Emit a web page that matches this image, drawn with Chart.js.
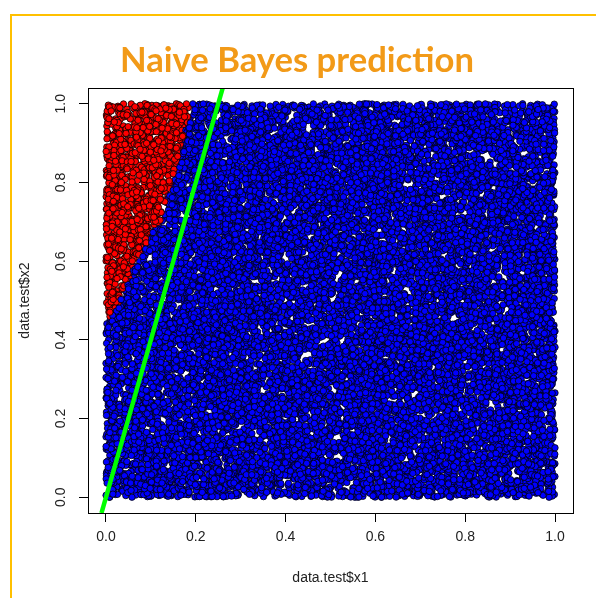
<!DOCTYPE html>
<html>
<head>
<meta charset="utf-8">
<script src="https://cdn.jsdelivr.net/npm/chart.js@4.4.1/dist/chart.umd.min.js"></script>
<style>
  html, body { margin: 0; padding: 0; background: #fff; }
  #wrap { width: 596px; height: 598px; }
</style>
</head>
<body>
<div id="wrap"><canvas id="nbChart" width="596" height="598"></canvas></div>
<script>
// Test sample: uniform points on the unit square (data.test$x1, data.test$x2)
var sampleSize = 18000;
var sampleSeed = 20170412;

// Predicted class boundary: points above this curve are labelled red
var boundaryX1 = [0.00, 0.04, 0.065, 0.125, 0.165, 0.20, 0.30];
var boundaryX2 = [0.44, 0.52, 0.60, 0.71, 0.87, 1.04, 1.50];

// Reference line drawn over the predictions
var refLineX1 = [-0.01, 0.26];
var refLineX2 = [-0.04, 1.04];

var tickValues = [0.0, 0.2, 0.4, 0.6, 0.8, 1.0];
var axisRange = [-0.04, 1.04];

var classColors = { red: '#FF0000', blue: '#0000FF' };

// small seeded generator so the sample is the same on every load
function mulberry32(a) {
    return function() {
        a |= 0; a = a + 0x6D2B79F5 | 0;
        var t = Math.imul(a ^ a >>> 15, 1 | a);
        t = t + Math.imul(t ^ t >>> 7, 61 | t) ^ t;
        return ((t ^ t >>> 14) >>> 0) / 4294967296;
    };
}

function boundaryAt(x1) {
    for (var i = 1; i < boundaryX1.length; i++) {
        if (x1 <= boundaryX1[i]) {
            var f = (x1 - boundaryX1[i - 1]) / (boundaryX1[i] - boundaryX1[i - 1]);
            return boundaryX2[i - 1] + f * (boundaryX2[i] - boundaryX2[i - 1]);
        }
    }
    return boundaryX2[boundaryX2.length - 1];
}

var rng = mulberry32(sampleSeed);
var testPoints = [];
var testColors = [];
for (var i = 0; i < sampleSize; i++) {
    var x1 = rng(), x2 = rng();
    testPoints.push({ x: x1, y: x2 });
    testColors.push(x2 > boundaryAt(x1) ? classColors.red : classColors.blue);
}

var refLine = refLineX1.map(function(v, k) { return { x: v, y: refLineX2[k] }; });

var labelFont = "14px 'Liberation Sans', Arial, sans-serif";

// frame, title, box, rotated y labels and axis titles
var decorations = {
    id: 'decorations',
    beforeDraw: function(chart) {
        var ctx = chart.ctx;
        ctx.save();
        ctx.strokeStyle = '#FFC000';
        ctx.lineWidth = 2;
        ctx.beginPath();
        ctx.moveTo(11, 598);
        ctx.lineTo(11, 15);
        ctx.lineTo(596, 15);
        ctx.stroke();

        var title = 'Naive Bayes prediction';
        ctx.font = "bold 34px Lato, 'Open Sans', sans-serif";
        ctx.fillStyle = '#F29A18';
        ctx.textBaseline = 'alphabetic';
        ctx.textAlign = 'left';
        var w = ctx.measureText(title).width;
        ctx.translate(120, 72);
        ctx.scale(354 / w, 1);
        ctx.fillText(title, 0, 0);
        ctx.restore();
    },
    afterDraw: function(chart) {
        var ctx = chart.ctx;
        var a = chart.chartArea;
        var ys = chart.scales.y;
        var xs = chart.scales.x;
        ctx.save();
        ctx.strokeStyle = '#000';
        ctx.lineWidth = 1;
        ctx.strokeRect(Math.round(a.left) + 0.5, Math.round(a.top) + 0.5,
            Math.round(a.right - a.left), Math.round(a.bottom - a.top));

        ctx.fillStyle = '#222';
        ctx.font = labelFont;
        ctx.textAlign = 'center';
        ctx.textBaseline = 'middle';
        tickValues.forEach(function(v) {
            ctx.save();
            ctx.translate(61, ys.getPixelForValue(v));
            ctx.rotate(-Math.PI / 2);
            ctx.fillText(v.toFixed(1), 0, 0);
            ctx.restore();
        });

        ctx.fillText('data.test$x1', (xs.getPixelForValue(0) + xs.getPixelForValue(1)) / 2, 578);
        ctx.save();
        ctx.translate(25, (a.top + a.bottom) / 2);
        ctx.rotate(-Math.PI / 2);
        ctx.fillText('data.test$x2', 0, 0);
        ctx.restore();
        ctx.restore();
    }
};

function fixedTicks(scale) {
    scale.ticks = tickValues.map(function(v) { return { value: v }; });
}

new Chart(document.getElementById('nbChart').getContext('2d'), {
    type: 'scatter',
    data: {
        datasets: [{
            type: 'line',
            data: refLine,
            borderColor: '#00FF00',
            borderWidth: 4.5,
            pointRadius: 0,
            fill: false,
            order: 0
        }, {
            data: testPoints,
            backgroundColor: testColors,
            borderColor: '#000',
            borderWidth: 0.8,
            pointRadius: 3.2,
            order: 1
        }]
    },
    plugins: [decorations],
    options: {
        responsive: false,
        animation: false,
        events: [],
        layout: {
            padding: { top: 88, right: 23, bottom: 0, left: 0 }
        },
        plugins: {
            legend: { display: false },
            tooltip: { enabled: false }
        },
        scales: {
            x: {
                type: 'linear',
                min: axisRange[0],
                max: axisRange[1],
                afterBuildTicks: fixedTicks,
                afterFit: function(s) { s.height = 85; },
                grid: { drawOnChartArea: false, drawTicks: true, tickLength: 9, color: '#000' },
                border: { display: true, color: '#000' },
                ticks: {
                    color: '#222',
                    font: { family: "'Liberation Sans', Arial, sans-serif", size: 14 },
                    padding: 7,
                    maxRotation: 0,
                    callback: function(v) { return Number(v).toFixed(1); }
                }
            },
            y: {
                type: 'linear',
                min: axisRange[0],
                max: axisRange[1],
                afterBuildTicks: fixedTicks,
                afterFit: function(s) { s.width = 88; },
                grid: { drawOnChartArea: false, drawTicks: true, tickLength: 9, color: '#000' },
                border: { display: true, color: '#000' },
                ticks: { display: false }
            }
        }
    }
});
</script>
</body>
</html>
